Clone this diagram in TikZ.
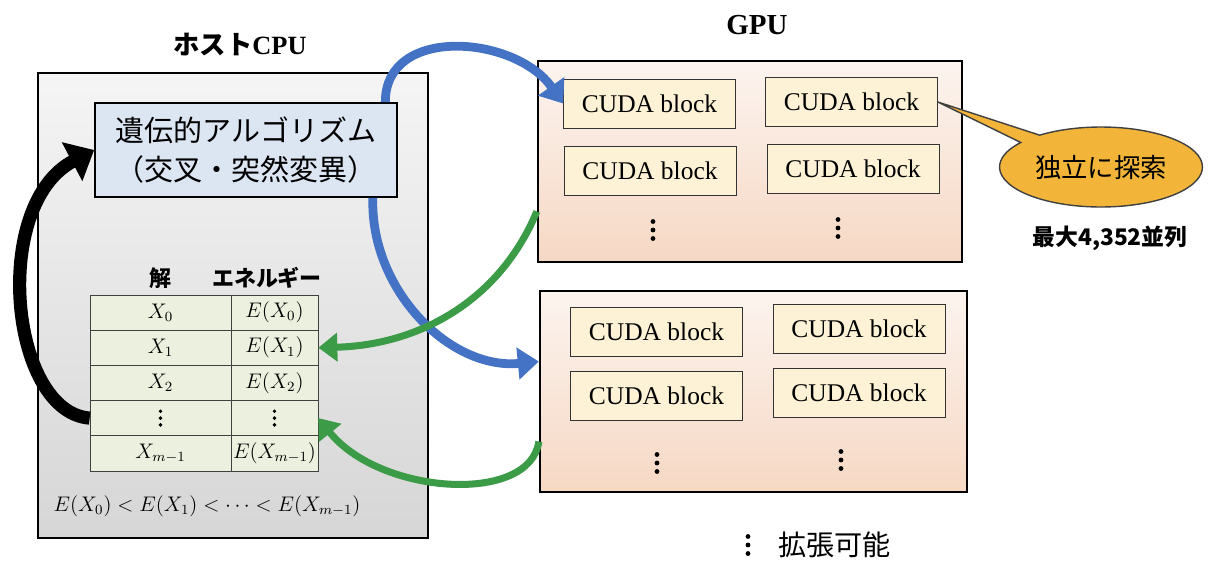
\documentclass[tikz,border=0pt]{standalone}
\usepackage{fontspec}
\setmainfont{Liberation Serif}
\newfontfamily\cjk{Noto Sans CJK JP}
\usetikzlibrary{arrows.meta,shapes.callouts}
\definecolor{cpubot}{HTML}{D6D6D6}
\definecolor{gafill}{HTML}{DCE6F2}
\definecolor{cellfill}{HTML}{EBF1DE}
\definecolor{cudafill}{HTML}{FDF1D6}
\definecolor{gputop}{HTML}{FCF4EF}
\definecolor{gpumid}{HTML}{F3C8AA}
\definecolor{gpubot}{HTML}{F6D8C4}
\definecolor{arrowblue}{HTML}{4472C4}
\definecolor{arrowgreen}{HTML}{3B9B47}
\definecolor{notefill}{HTML}{F2B53A}
\tikzset{vdotcol/.pic={\foreach \d in {-8.5,0,8.5} \fill (0,\d) circle (2.4);}}
\begin{document}
\begin{tikzpicture}[x=0.02cm,y=-0.02cm,
    gpubox/.style={draw, line width=1.4pt, top color=gputop, middle color=gpumid, bottom color=gpubot, minimum height=4.02cm, inner sep=0pt},
    cudablock/.style={draw=black!80, fill=cudafill, minimum width=3.44cm, minimum height=0.98cm, inner sep=0pt, font=\fontsize{14.5}{16}\selectfont},
    cell/.style={draw=black!75, fill=cellfill, minimum height=0.704cm, inner sep=0pt, font=\fontsize{11.5}{13}\selectfont},
    bluearrow/.style={draw=arrowblue, line width=5pt, -{Triangle[length=0.42cm,width=0.62cm]}},
    greenarrow/.style={draw=arrowgreen, line width=4pt, -{Triangle[length=0.38cm,width=0.56cm]}}]
    \useasboundingbox (0,0) rectangle (1214,562);

    % Host CPU
    \node[font=\fontsize{15}{17}\selectfont\bfseries] (cputitle) at (240,45) {{\cjk ホスト}CPU};
    \node[draw, line width=1.4pt, top color=white!96!black, bottom color=cpubot, minimum width=7.8cm, minimum height=9.3cm, inner sep=0pt] (cpu) at (233,305.5) {};
    \node[draw, line width=1pt, fill=gafill, minimum width=6.04cm, minimum height=1.88cm, align=center, font=\cjk\fontsize{16.5}{22}\selectfont] (ga) at (246,150) {遺伝的アルゴリズム\\（交叉・突然変異）};

    % Solutions table
    \node[font=\cjk\fontsize{12.5}{14}\selectfont\bfseries] (solhead) at (160,278) {解};
    \node[font=\cjk\fontsize{12.5}{14}\selectfont\bfseries] (enhead) at (267,278) {エネルギー};
    \foreach \lab/\en [count=\i from 0] in {X_0/E(X_0), X_1/E(X_1), X_2/E(X_2), /, X_{m-1}/E(X_{m-1})} {
        \node[cell, minimum width=2.82cm] (sol\i) at (160.5,{312.5+35.2*\i}) {$\lab$};
        \node[cell, minimum width=1.74cm] (en\i) at (274.5,{312.5+35.2*\i}) {$\en$};
    }
    \path (sol3) pic[scale=0.8] {vdotcol} (en3) pic[scale=0.8] {vdotcol};
    \node[font=\fontsize{12}{14}\selectfont] (order) at (207,506) {$E(X_0)<E(X_1)<\cdots<E(X_{m-1})$};

    % GPUs
    \node[font=\fontsize{16.5}{18}\selectfont\bfseries] (gputitle) at (757,25) {GPU};
    \node[gpubox, minimum width=8.48cm] (gpu1) at (750,161.5) {};
    \node[gpubox, minimum width=8.54cm] (gpu2) at (753.5,391.5) {};

    \node[cudablock] (cu11) at (649.5,103.5) {CUDA block};
    \node[cudablock] (cu12) at (851.5,102) {CUDA block};
    \node[cudablock] (cu13) at (650,170.5) {CUDA block};
    \node[cudablock] (cu14) at (853,168.5) {CUDA block};
    \path (653,230) pic {vdotcol} (838,228) pic {vdotcol};

    \node[cudablock] (cu21) at (656.5,331.5) {CUDA block};
    \node[cudablock] (cu22) at (859,329) {CUDA block};
    \node[cudablock] (cu23) at (656.5,396) {CUDA block};
    \node[cudablock] (cu24) at (859,393) {CUDA block};
    \path (657,463) pic {vdotcol} (841,460) pic {vdotcol};

    \path (748,545) pic {vdotcol};
    \node[font=\cjk\fontsize{16}{18}\selectfont, anchor=west] (morelbl) at (772,545) {拡張可能};

    % Callout
    \node[ellipse callout, draw=black!75, line width=0.8pt, fill=notefill, minimum width=3.5cm, minimum height=1.6cm,
        callout absolute pointer={(cu12.east)}, font=\cjk\fontsize{15}{17}\selectfont] (note) at (1101,167) {独立に探索};
    \node[font=\cjk\fontsize{13}{15}\selectfont\bfseries] (par) at (1110,238) {最大4,352並列};

    % Arrows
    \draw[bluearrow] ([xshift=-0.25cm]ga.north east) .. controls (385,25) and (515,35) .. (cu11.west);
    \draw[bluearrow] ([xshift=-0.5cm]ga.south east) .. controls (370,290) and (450,370) .. ([yshift=0.6cm]gpu2.west);
    \draw[greenarrow] ([yshift=-1cm]gpu1.west) .. controls (500,300) and (420,345) .. (en1.east);
    \draw[greenarrow] ([yshift=-1cm]gpu2.west) .. controls (530,505) and (380,495) .. (en3.east);
    \draw[line width=7.5pt, -{Triangle[length=0.5cm,width=0.85cm]}] (sol3.west) .. controls (10,412) and (-10,205) .. (ga.west);

\end{tikzpicture}
\end{document}
